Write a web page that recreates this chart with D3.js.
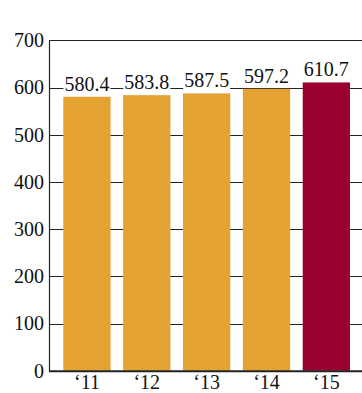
<!DOCTYPE html>
<html>
<head>
<meta charset="utf-8">
<script src="https://cdn.jsdelivr.net/npm/d3@7"></script>
<style>
  html, body { margin: 0; padding: 0; background: #fff; }
  svg { display: block; }
  text { font-family: "Liberation Serif", "DejaVu Serif", serif; fill: #111; }
</style>
</head>
<body>
<svg id="chart" width="362" height="393"></svg>
<script>
// Annual values, 2011–2015
const years = ["\u201811", "\u201812", "\u201813", "\u201814", "\u201815"];
const values = [580.4, 583.8, 587.5, 597.2, 610.7];
const yTicks = [0, 100, 200, 300, 400, 500, 600, 700];
const barColors = ["#E3A232", "#E3A232", "#E3A232", "#E3A232", "#9A0030"];

const svg = d3.select("#chart");
const W = 362;
const axisX = 49;

const y = d3.scaleLinear().domain([0, 700]).range([370.7, 40.3]);
const x = d3.scaleBand().domain(years).range([57.3, 356.0])
  .paddingInner(0.21).paddingOuter(0.1);

// horizontal gridlines
svg.append("g").selectAll("line").data(yTicks.filter(d => d > 0)).join("line")
  .attr("x1", axisX).attr("x2", W)
  .attr("y1", d => Math.round(y(d)) + 0.5).attr("y2", d => Math.round(y(d)) + 0.5)
  .attr("stroke", "#222").attr("stroke-width", 1);

// y tick labels
svg.append("g").selectAll("text").data(yTicks).join("text")
  .attr("x", 44).attr("y", d => y(d))
  .attr("dy", "0.34em")
  .attr("text-anchor", "end")
  .attr("font-size", 20)
  .text(d => d);

// bars
svg.append("g").selectAll("rect").data(values).join("rect")
  .attr("x", (d, i) => x(years[i]))
  .attr("width", x.bandwidth())
  .attr("y", d => y(d))
  .attr("height", d => y(0) - y(d))
  .attr("fill", (d, i) => barColors[i]);

// value labels with white backing
const lab = svg.append("g").selectAll("g").data(values).join("g");
lab.append("text")
  .attr("x", (d, i) => x(years[i]) + x.bandwidth() / 2)
  .attr("y", d => y(d) - 6)
  .attr("text-anchor", "middle")
  .attr("font-size", 20)
  .text(d => d.toFixed(1));
lab.each(function () {
  const g = d3.select(this);
  const bb = g.select("text").node().getBBox();
  g.insert("rect", "text")
    .attr("x", bb.x - 1).attr("y", bb.y + 2)
    .attr("width", bb.width + 2).attr("height", bb.height - 4)
    .attr("fill", "#fff");
});

// axes lines
svg.append("line")
  .attr("x1", axisX + 0.5).attr("x2", axisX + 0.5)
  .attr("y1", y(700)).attr("y2", y(0) + 1)
  .attr("stroke", "#222").attr("stroke-width", 1.2);
svg.append("line")
  .attr("x1", axisX).attr("x2", W)
  .attr("y1", y(0) + 0.5).attr("y2", y(0) + 0.5)
  .attr("stroke", "#222").attr("stroke-width", 2);

// x labels
svg.append("g").selectAll("text").data(years).join("text")
  .attr("x", d => x(d) + x.bandwidth() / 2)
  .attr("y", 388.5)
  .attr("text-anchor", "middle")
  .attr("font-size", 20)
  .text(d => d);
</script>
</body>
</html>
